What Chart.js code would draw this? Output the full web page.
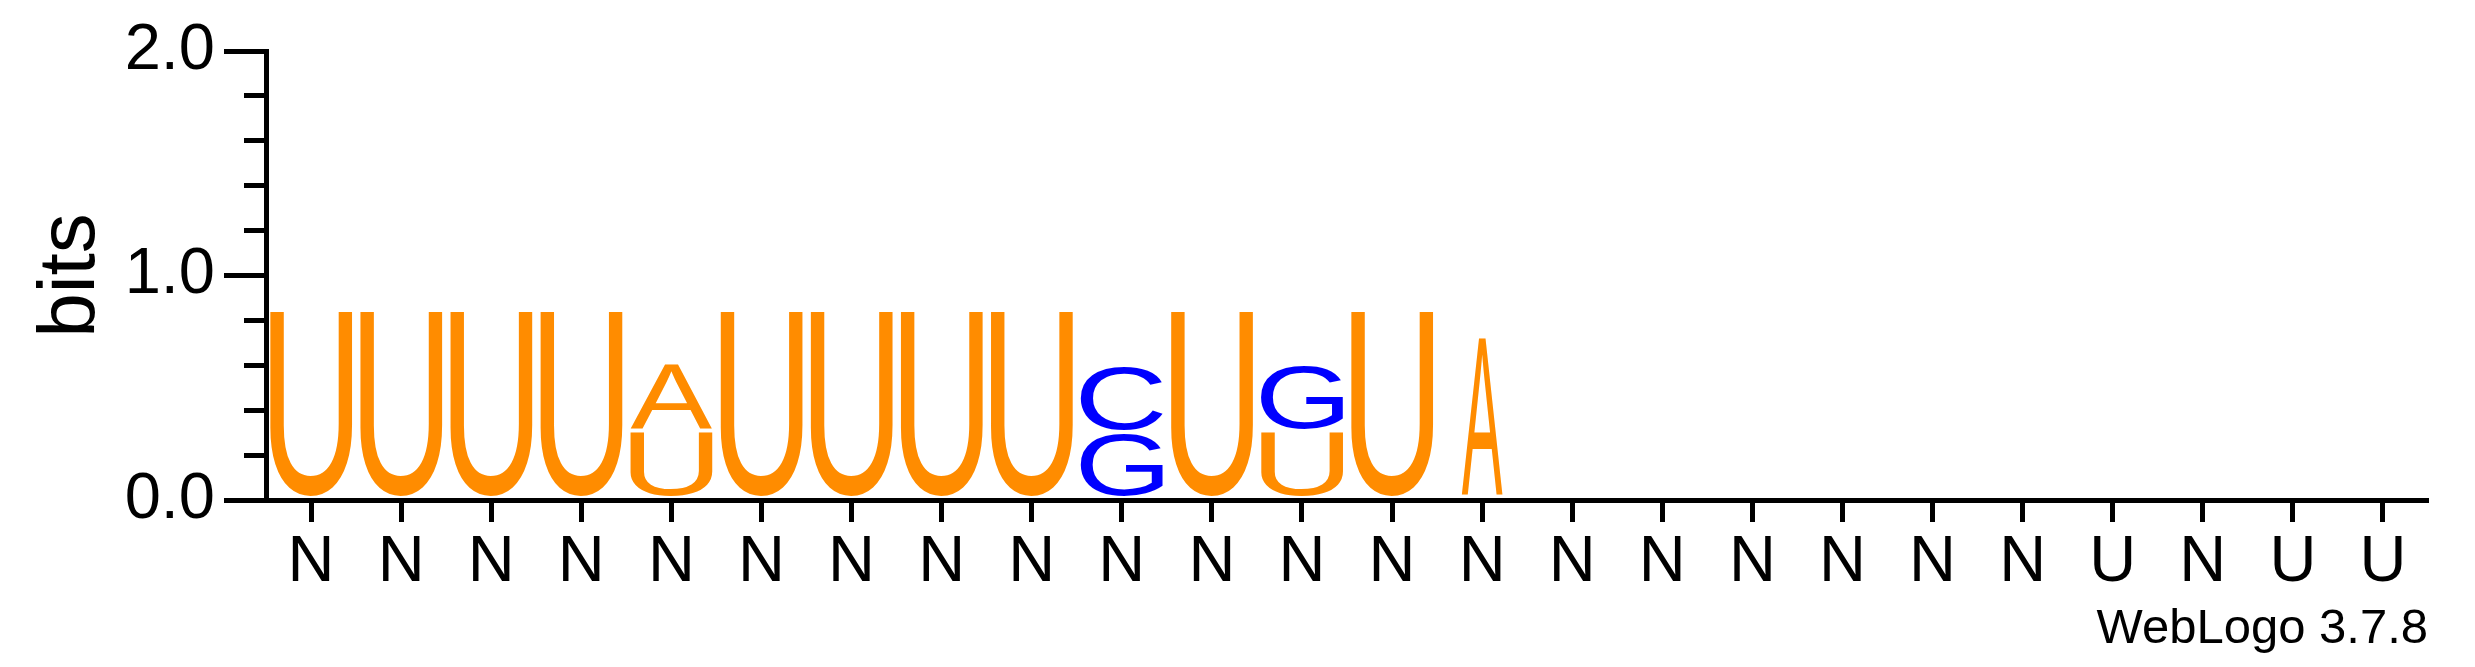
<!DOCTYPE html>
<html>
<head>
<meta charset="utf-8">
<title>WebLogo</title>
<script src="https://cdn.jsdelivr.net/npm/chart.js@4.4.1/dist/chart.umd.min.js"></script>
<style>
  html, body { margin: 0; padding: 0; background: #fff; }
  canvas { display: block; }
</style>
</head>
<body>
<canvas id="logo" width="2475" height="667"></canvas>
<script>
// consensus labels under each column
const positions = ['N', 'N', 'N', 'N', 'N', 'N', 'N', 'N', 'N', 'N', 'N', 'N',
    'N', 'N', 'N', 'N', 'N', 'N', 'N', 'N', 'U', 'N', 'U', 'U'];

// bits per letter, stacked bottom to top in this order: U, G, C, A
const bitsU = [0.84, 0.84, 0.84, 0.84, 0.30, 0.84, 0.84, 0.84, 0.84, 0, 0.84, 0.30,
    0.84, 0, 0, 0, 0, 0, 0, 0, 0, 0, 0, 0];
const bitsG = [0, 0, 0, 0, 0, 0, 0, 0, 0, 0.295, 0, 0.295,
    0, 0, 0, 0, 0, 0, 0, 0, 0, 0, 0, 0];
const bitsC = [0, 0, 0, 0, 0, 0, 0, 0, 0, 0.295, 0, 0,
    0, 0, 0, 0, 0, 0, 0, 0, 0, 0, 0, 0];
const bitsA = [0, 0, 0, 0, 0.30, 0, 0, 0, 0, 0, 0, 0,
    0, 0.72, 0, 0, 0, 0, 0, 0, 0, 0, 0, 0];

// relative column width (fraction of sequences present)
const columnWidth = [1, 1, 1, 1, 1, 1, 1, 1, 1, 1, 1, 1,
    1, 0.5, 1, 1, 1, 1, 1, 1, 1, 1, 1, 1];

const letterColor = { U: '#ff8c00', A: '#ff8c00', G: '#0000ff', C: '#0000ff' };

const FONT = '"Liberation Sans", Arial, Helvetica, sans-serif';
const GLYPH_GAP = 3.5;

const isMajor = v => Math.abs(v - Math.round(v)) < 1e-6;

// stretch each letter into the rectangle of its stacked bar
const glyphPlugin = {
    id: 'glyphs',
    afterDatasetsDraw(chart) {
        const ctx = chart.ctx;
        chart.data.datasets.forEach((ds, i) => {
            const meta = chart.getDatasetMeta(i);
            meta.data.forEach((bar, j) => {
                if (!ds.data[j]) return;
                const { x, y, base, width } = bar.getProps(['x', 'y', 'base', 'width'], true);
                const w = width * columnWidth[j];
                const h = base - GLYPH_GAP - y;
                if (h < 1) return;

                ctx.save();
                ctx.font = '200px ' + FONT;
                ctx.textAlign = 'left';
                ctx.textBaseline = 'alphabetic';
                const m = ctx.measureText(ds.label);
                const gw = m.actualBoundingBoxLeft + m.actualBoundingBoxRight;
                const gh = m.actualBoundingBoxAscent + m.actualBoundingBoxDescent;
                ctx.translate(x - w / 2, y);
                ctx.scale(w / gw, h / gh);
                ctx.fillStyle = letterColor[ds.label];
                ctx.fillText(ds.label, m.actualBoundingBoxLeft, m.actualBoundingBoxAscent);
                ctx.restore();
            });
        });
    },
};

const makeSet = (letter, values) => ({
    label: letter,
    data: values,
    backgroundColor: 'rgba(0,0,0,0)',
    borderWidth: 0,
    barPercentage: 0.91,
    categoryPercentage: 1,
});

new Chart(document.getElementById('logo'), {
    type: 'bar',
    data: {
        labels: positions,
        datasets: [
            makeSet('U', bitsU),
            makeSet('G', bitsG),
            makeSet('C', bitsC),
            makeSet('A', bitsA),
        ],
    },
    plugins: [glyphPlugin],
    options: {
        responsive: false,
        animation: false,
        devicePixelRatio: 1,
        layout: { padding: { left: 0, right: 47, top: 51, bottom: 0 } },
        plugins: {
            legend: { display: false },
            tooltip: { enabled: false },
            title: {
                display: true,
                text: 'WebLogo 3.7.8',
                position: 'bottom',
                align: 'end',
                color: '#000',
                font: { family: FONT, size: 49, weight: 'normal' },
                padding: { top: 0, bottom: 8 },
            },
        },
        scales: {
            x: {
                stacked: true,
                offset: true,
                afterFit: scale => { scale.height = 100.2; },
                grid: {
                    offset: false,
                    drawOnChartArea: false,
                    tickLength: 22,
                    tickWidth: 5,
                    tickColor: '#000',
                },
                border: { display: true, color: '#000', width: 5 },
                ticks: {
                    color: '#000',
                    font: { family: FONT, size: 65 },
                    padding: 2,
                    autoSkip: false,
                    maxRotation: 0,
                },
            },
            y: {
                stacked: true,
                min: 0,
                max: 2,
                afterFit: scale => { scale.width = 266; },
                grid: {
                    drawOnChartArea: false,
                    tickLength: 42,
                    tickWidth: 5,
                    tickColor: '#000',
                    // minor ticks only show their inner 20px
                    tickBorderDash: c => (c.tick && isMajor(c.tick.value) ? [] : [0, 20, 60, 0]),
                },
                border: { display: true, color: '#000', width: 5 },
                ticks: {
                    stepSize: 0.2,
                    autoSkip: false,
                    color: '#000',
                    padding: 9,
                    font: { family: FONT, size: 65 },
                    callback: v => (isMajor(v) ? v.toFixed(1) : ''),
                },
                title: {
                    display: true,
                    text: 'bits',
                    color: '#000',
                    font: { family: FONT, size: 80 },
                    padding: { top: 24, bottom: 0 },
                },
            },
        },
    },
});
</script>
</body>
</html>
